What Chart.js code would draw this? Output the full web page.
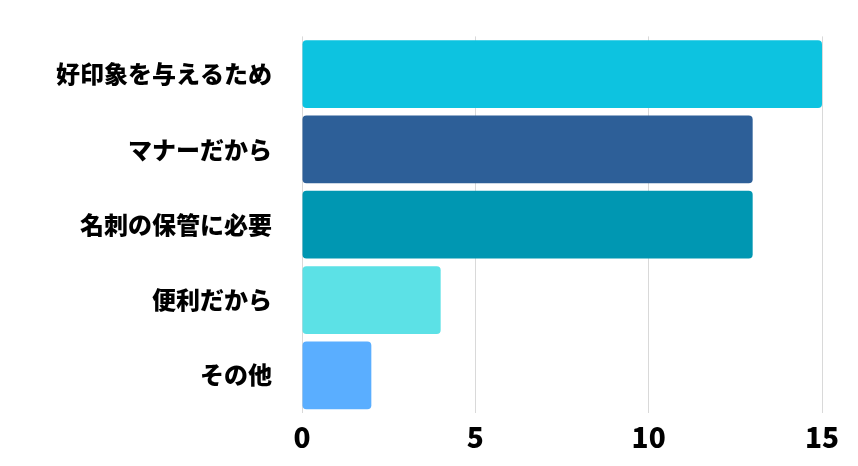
<!DOCTYPE html>
<html><head><meta charset="utf-8">
<script src="https://cdn.jsdelivr.net/npm/chart.js@4"></script>
<style>html,body{margin:0;padding:0;background:#fff}#c{width:858px;height:466px}</style>
</head><body><div id="c"><canvas id="cv" width="858" height="466"></canvas></div>
<script>
const categories = ["好印象を与えるため","マナーだから","名刺の保管に必要","便利だから","その他"];
const values = [15,13,13,4,2];
const colors = ["#0DC3E0","#2D5F98","#0097B2","#5CE1E6","#5AAEFF"];
const xTicks = [0,5,10,15];
new Chart(document.getElementById('cv'), {
  type:'bar',
  data:{labels:categories,datasets:[{data:values,backgroundColor:colors,borderRadius:4,borderSkipped:false,barPercentage:0.9,categoryPercentage:1}]},
  options:{indexAxis:'y',responsive:false,animation:false,
    layout:{padding:{top:16,right:36,left:0,bottom:0}},
    plugins:{legend:{display:false},tooltip:{enabled:false}},
    scales:{
      x:{min:0,max:15,afterBuildTicks:a=>{a.ticks=xTicks.map(v=>({value:v}));},
        afterFit:a=>{a.height=53;},
        grid:{color:'#d9d9d9',drawTicks:false},border:{display:false},
        ticks:{color:'#000',padding:8,font:{family:'Noto Sans CJK JP',size:28,weight:900}}},
      y:{grid:{display:false},border:{display:false},afterFit:a=>{a.width=302;},
        ticks:{color:'#000',padding:22,font:{family:'Noto Sans CJK JP',size:24,weight:900}}}
    }}
});
</script></body></html>
